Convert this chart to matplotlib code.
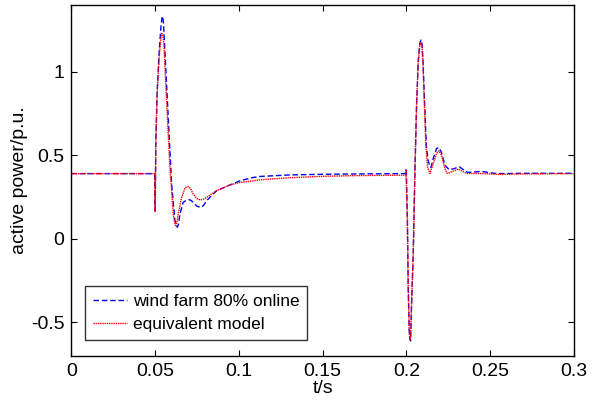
#!/usr/bin/env python3
"""
plot.py -- active power of the wind farm vs its equivalent model.

two faults (t=0.05 s and t=0.2 s); blue dashed is the detailed farm with
80% of turbines online, red dotted the equivalent model.

    python plot.py
"""
import matplotlib
matplotlib.use("Agg")
import matplotlib.pyplot as plt

# detailed wind farm, 80% online
farm_t = [0.0, 0.0499, 0.0501, 0.0505, 0.0513, 0.0525, 0.0535, 0.0541, 0.0545, 0.0550,
          0.0559, 0.0579, 0.0599, 0.0619, 0.0627, 0.0633, 0.0640, 0.0649, 0.0668, 0.0690,
          0.0702, 0.0715, 0.0728, 0.0750, 0.0774, 0.0790, 0.0808, 0.0868, 0.0947, 0.1007,
          0.1086, 0.1127, 0.1300, 0.1500, 0.1700, 0.1998, 0.2000, 0.2006, 0.2011, 0.2017,
          0.2021, 0.2025, 0.2031, 0.2041, 0.2051, 0.2061, 0.2071, 0.2080, 0.2087, 0.2093,
          0.2099, 0.2109, 0.2119, 0.2129, 0.2140, 0.2147, 0.2160, 0.2180, 0.2194, 0.2208,
          0.2230, 0.2256, 0.2285, 0.2316, 0.2345, 0.2366, 0.2449, 0.2539, 0.2700, 0.3000]
farm_p = [0.390, 0.390, 0.170, 0.590, 0.885, 1.124, 1.263, 1.320, 1.333, 1.300,
          1.124, 0.725, 0.328, 0.109, 0.080, 0.069, 0.085, 0.149, 0.218, 0.232,
          0.234, 0.230, 0.218, 0.195, 0.188, 0.200, 0.228, 0.288, 0.322, 0.347,
          0.367, 0.373, 0.382, 0.386, 0.388, 0.390, 0.410, 0.109, -0.290, -0.548,
          -0.600, -0.612, -0.389, -0.090, 0.407, 0.805, 1.064, 1.170, 1.190, 1.170,
          1.064, 0.805, 0.560, 0.470, 0.435, 0.427, 0.480, 0.540, 0.546, 0.520,
          0.440, 0.413, 0.420, 0.431, 0.410, 0.397, 0.403, 0.390, 0.392, 0.392]

# equivalent model
equiv_t = [0.0, 0.0499, 0.0501, 0.0505, 0.0513, 0.0525, 0.0535, 0.0541, 0.0547, 0.0553,
           0.0569, 0.0589, 0.0609, 0.0617, 0.0623, 0.0630, 0.0639, 0.0659, 0.0679, 0.0698,
           0.0712, 0.0728, 0.0750, 0.0772, 0.0790, 0.0808, 0.0868, 0.0947, 0.1007, 0.1086,
           0.1127, 0.1300, 0.1500, 0.1700, 0.1996, 0.1997, 0.2006, 0.2011, 0.2017, 0.2021,
           0.2024, 0.2031, 0.2041, 0.2051, 0.2061, 0.2071, 0.2080, 0.2087, 0.2094, 0.2099,
           0.2107, 0.2117, 0.2127, 0.2141, 0.2160, 0.2180, 0.2194, 0.2210, 0.2230, 0.2244,
           0.2280, 0.2310, 0.2360, 0.2450, 0.2550, 0.2700, 0.3000]
equiv_p = [0.390, 0.390, 0.160, 0.580, 0.870, 1.090, 1.200, 1.230, 1.220, 1.163,
           0.825, 0.427, 0.149, 0.095, 0.079, 0.095, 0.149, 0.248, 0.304, 0.313,
           0.300, 0.268, 0.240, 0.232, 0.238, 0.248, 0.288, 0.322, 0.337, 0.347,
           0.353, 0.365, 0.374, 0.378, 0.381, 0.417, 0.109, -0.290, -0.548, -0.600,
           -0.608, -0.389, -0.090, 0.407, 0.805, 1.064, 1.160, 1.175, 1.150, 1.064,
           0.805, 0.546, 0.427, 0.391, 0.450, 0.510, 0.527, 0.500, 0.420, 0.391,
           0.405, 0.417, 0.391, 0.391, 0.385, 0.388, 0.390]

x_ticks = [0, 0.05, 0.1, 0.15, 0.2, 0.25, 0.3]
x_tick_labels = ["0", "0.05", "0.1", "0.15", "0.2", "0.25", "0.3"]
y_ticks = [-0.5, 0, 0.5, 1]
y_tick_labels = ["-0.5", "0", "0.5", "1"]


def main() -> None:
    plt.rcParams["font.family"] = ["Liberation Sans", "DejaVu Sans"]
    fig = plt.figure(figsize=(6.01, 4.0), dpi=100)
    ax = fig.add_axes([0.1185, 0.111, 0.8365, 0.8765])

    ax.plot(farm_t, farm_p, color="blue", linestyle=(0, (4, 2)), linewidth=1.0,
            label="wind farm 80% online")
    ax.plot(equiv_t, equiv_p, color="red", linestyle=(0, (1, 0.6)), linewidth=1.0,
            label="equivalent model")

    ax.set_xlim(0, 0.3)
    ax.set_ylim(-0.7, 1.4)
    ax.set_xticks(x_ticks)
    ax.set_xticklabels(x_tick_labels)
    ax.set_yticks(y_ticks)
    ax.set_yticklabels(y_tick_labels)
    ax.tick_params(direction="in", length=4, width=0.8, labelsize=14,
                   top=True, right=True, pad=5)
    for s in ax.spines.values():
        s.set_linewidth(1.0)

    ax.set_xlabel("t/s", fontsize=14, labelpad=0)
    ax.set_ylabel("active power/p.u.", fontsize=14, labelpad=2)

    leg = ax.legend(loc="lower left", bbox_to_anchor=(0.027, 0.045), fontsize=12.5,
                    frameon=True, fancybox=False, handlelength=2.0,
                    handletextpad=0.3, borderpad=0.45, labelspacing=0.45,
                    borderaxespad=0)
    leg.get_frame().set_edgecolor("black")
    leg.get_frame().set_linewidth(1.0)

    fig.savefig("out.png", dpi=100)
    plt.close(fig)


if __name__ == "__main__":
    main()
